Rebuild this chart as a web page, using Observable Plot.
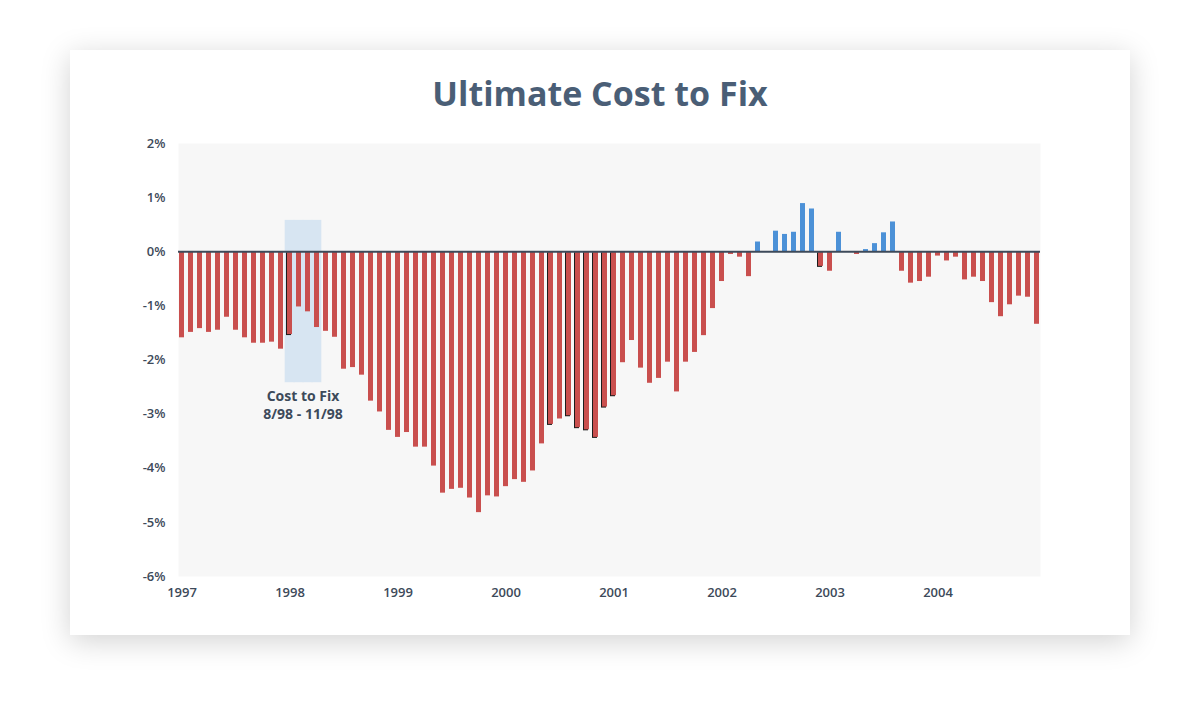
<!DOCTYPE html>
<html><head><meta charset="utf-8">
<script src="https://cdn.jsdelivr.net/npm/d3@7"></script>
<script src="https://cdn.jsdelivr.net/npm/@observablehq/plot@0.6"></script>
<style>
html,body{margin:0;padding:0;background:#fff;width:1200px;height:724px;overflow:hidden;}
#card{position:absolute;left:70px;top:50px;width:1060px;height:585px;background:#fff;box-shadow:0 6px 28px rgba(0,0,0,0.18);}
#title{position:absolute;left:0;top:22px;width:1060px;text-align:center;font-family:"Open Sans";font-weight:700;font-size:34px;color:#4a5e76;line-height:42px;margin:0;}
#chart{position:absolute;left:0;top:80px;}
</style></head><body>
<div id="card"><h1 id="title">Ultimate Cost to Fix</h1><div id="chart"></div></div>
<script>
const years = [1997, 1998, 1999, 2000, 2001, 2002, 2003, 2004];
const values = [
  -1.59, -1.49, -1.42, -1.49, -1.45, -1.21, -1.45, -1.59, -1.69, -1.69, -1.67, -1.80,
  -1.53, -1.02, -1.11, -1.40, -1.47, -1.58, -2.17, -2.14, -2.28, -2.76, -2.96, -3.30,
  -3.43, -3.34, -3.61, -3.61, -3.96, -4.46, -4.39, -4.37, -4.55, -4.82, -4.51, -4.53,
  -4.34, -4.21, -4.26, -4.05, -3.55, -3.19, -3.09, -3.03, -3.25, -3.29, -3.43, -2.87,
  -2.66, -2.05, -1.64, -2.15, -2.43, -2.34, -2.04, -2.59, -2.04, -1.86, -1.55, -1.05,
  -0.55, -0.05, -0.10, -0.46, 0.18, 0.00, 0.38, 0.32, 0.36, 0.89, 0.79, -0.27,
  -0.36, 0.36, 0.00, -0.05, 0.04, 0.15, 0.35, 0.55, -0.36, -0.58, -0.55, -0.47,
  -0.08, -0.17, -0.10, -0.52, -0.47, -0.55, -0.94, -1.20, -0.98, -0.82, -0.84, -1.34
];
const shadowMonths = [12, 41, 43, 44, 45, 46, 47, 48, 71];
const highlightMonths = [12, 13, 14, 15];
const highlightTop = 0.58;
const highlightBottom = -2.42;
const noteLines = ["Cost to Fix", "8/98 - 11/98"];
const noteLineY = [-2.67, -3.01];
const noteMonth = 13;
const yTicks = [-6, -5, -4, -3, -2, -1, 0, 1, 2];

const data = values.map((v, i) => ({i, v}));
const neg = data.filter(d => d.v < 0);
const pos = data.filter(d => d.v > 0);
const shadows = data.filter(d => shadowMonths.includes(d.i));
const hl = highlightMonths.map(i => ({i, y1: highlightTop, y2: highlightBottom}));
const note = noteLines.map((label, k) => ({i: noteMonth, y: noteLineY[k], label}));

const chart = Plot.plot({
  width: 1060, height: 480,
  marginLeft: 108, marginRight: 90, marginTop: 13, marginBottom: 34,
  style: {fontFamily: "Open Sans", fontSize: "13px", fontWeight: 600, color: "#3d4a5a", background: "transparent", overflow: "visible"},
  x: {type: "band", domain: data.map(d => d.i), paddingInner: 0.4, paddingOuter: 0, tickSize: 0, tickPadding: 11, label: null,
      tickFormat: i => i % 12 === 0 ? String(years[i / 12]) : ""},
  y: {domain: [-6, 2], ticks: yTicks, tickFormat: d => d + "%", tickSize: 0, tickPadding: 13, label: null},
  marks: [
    Plot.frame({fill: "#f7f7f7", stroke: "none"}),
    Plot.barY(hl, {x: "i", y1: "y1", y2: "y2", fill: "#d7e5f2", insetLeft: -2.3, insetRight: -2.3}),
    Plot.barY(shadows, {x: "i", y: "v", fill: "#1c1c1c", dx: -1, dy: 1}),
    Plot.barY(neg, {x: "i", y: "v", fill: "#c94f4e"}),
    Plot.barY(pos, {x: "i", y: "v", fill: "#4c91d7"}),
    Plot.ruleY([0], {stroke: "#3d4a5a", strokeWidth: 2}),
    Plot.text(note, {x: "i", y: "y", text: "label", dx: 4, fontSize: 14, fontWeight: 700, fill: "#3d4a5a"})
  ]
});
document.getElementById("chart").appendChild(chart);
</script>
</body></html>
